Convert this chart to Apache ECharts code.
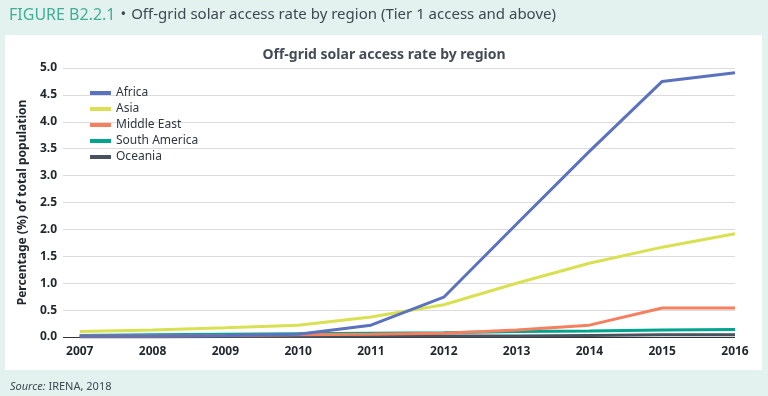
<!DOCTYPE html>
<html>
<head>
<meta charset="utf-8">
<script src="https://cdn.jsdelivr.net/npm/echarts@6/dist/echarts.min.js"></script>
<style>
  html, body { margin: 0; padding: 0; background: #e3f2ee; }
  #ech { width: 768px; height: 396px; }
</style>
</head>
<body>
<div id="ech"></div>
<script>
// years on the x axis
var years = [2007, 2008, 2009, 2010, 2011, 2012, 2013, 2014, 2015, 2016];
// access rate, % of total population
var africa       = [0.02, 0.02, 0.03, 0.05, 0.22, 0.74, 2.10, 3.45, 4.75, 4.91];
var asia         = [0.10, 0.13, 0.17, 0.22, 0.37, 0.60, 1.00, 1.37, 1.67, 1.92];
var middleEast   = [0.02, 0.02, 0.03, 0.04, 0.05, 0.07, 0.13, 0.22, 0.54, 0.54];
var southAmerica = [0.03, 0.04, 0.05, 0.06, 0.07, 0.08, 0.10, 0.11, 0.13, 0.14];
var oceania      = [0.00, 0.00, 0.01, 0.01, 0.02, 0.02, 0.02, 0.03, 0.04, 0.04];
var yTicks = [0, 0.5, 1, 1.5, 2, 2.5, 3, 3.5, 4, 4.5, 5];

var font = 'Noto Sans';
var names = ['Africa', 'Asia', 'Middle East', 'South America', 'Oceania'];
var values = [africa, asia, middleEast, southAmerica, oceania];
var colors = ['#5b72be', '#d9e152', '#f4805f', '#00a48f', '#46535e'];

function pairs(arr) {
    return arr.map(function (v, i) { return [years[i], v]; });
}

var myChart = echarts.init(document.getElementById('ech'));
var option = {
    backgroundColor: '#e3f2ee',
    animation: false,
    graphic: [{
        type: 'rect', z: -10,
        shape: { x: 5, y: 35, width: 757, height: 335 },
        style: { fill: '#ffffff' }
    }],
    title: [{
        text: '{a|FIGURE B2.2.1} {b|•} {b|Off-grid solar access rate by region (Tier 1 access and above)}',
        left: 4, top: 1,
        textStyle: {
            fontWeight: 'normal',
            rich: {
                a: { fontFamily: font, fontSize: 16, fontWeight: 'normal', color: '#3fae98' },
                b: { fontFamily: font, fontSize: 15, fontWeight: 'normal', color: '#3d4852' }
            }
        }
    }, {
        text: 'Off-grid solar access rate by region',
        left: 'center', top: 43,
        textStyle: { fontFamily: font, fontSize: 14, fontWeight: 'bold', color: '#434c56' }
    }, {
        text: '{i|Source:} IRENA, 2018',
        left: 5, top: 376,
        textStyle: {
            fontFamily: font, fontSize: 11, color: '#3d4852', fontWeight: 'normal',
            rich: { i: { fontFamily: font, fontSize: 11, fontStyle: 'italic', color: '#3d4852' } }
        }
    }],
    legend: {
        orient: 'vertical',
        left: 85, top: 82,
        itemWidth: 21, itemHeight: 4, itemGap: 4,
        icon: 'rect',
        textStyle: { fontFamily: font, fontSize: 12, color: '#2e3740' },
        data: names
    },
    grid: { left: 63, right: 33, top: 68, bottom: 59 },
    xAxis: {
        type: 'value',
        min: 2006.77, max: 2016,
        axisLine: { show: false },
        axisTick: { show: false },
        splitLine: { show: false },
        axisLabel: {
            customValues: years,
            margin: 9,
            fontFamily: font, fontSize: 12, fontWeight: 'bold', color: '#1f262d',
            formatter: function (v) { return String(v); }
        }
    },
    yAxis: {
        type: 'value',
        min: 0, max: 5, interval: 0.5,
        name: 'Percentage (%) of total population',
        nameLocation: 'middle',
        nameGap: 31,
        nameTextStyle: { fontFamily: font, fontSize: 12, fontWeight: 'bold', color: '#1f262d' },
        axisLine: { show: false },
        axisTick: { show: false },
        splitLine: { lineStyle: { color: '#dcdcdc', width: 1 } },
        axisLabel: {
            margin: 6,
            fontFamily: font, fontSize: 12, fontWeight: 'bold', color: '#1f262d',
            formatter: function (v) { return yTicks.indexOf(v) >= 0 ? v.toFixed(1) : ''; }
        }
    },
    series: names.map(function (n, i) {
        return {
            name: n,
            type: 'line',
            data: pairs(values[i]),
            showSymbol: false,
            symbol: 'none',
            lineStyle: { width: 3, color: colors[i] },
            itemStyle: { color: colors[i] },
            z: 10 - i
        };
    }).concat([{
        name: 'zero',
        type: 'line',
        data: [],
        markLine: {
            silent: true, symbol: 'none', label: { show: false },
            lineStyle: { color: '#333', width: 1, type: 'solid' },
            data: [{ yAxis: 0 }]
        },
        z: 1
    }])
};
myChart.setOption(option);
</script>
</body>
</html>
